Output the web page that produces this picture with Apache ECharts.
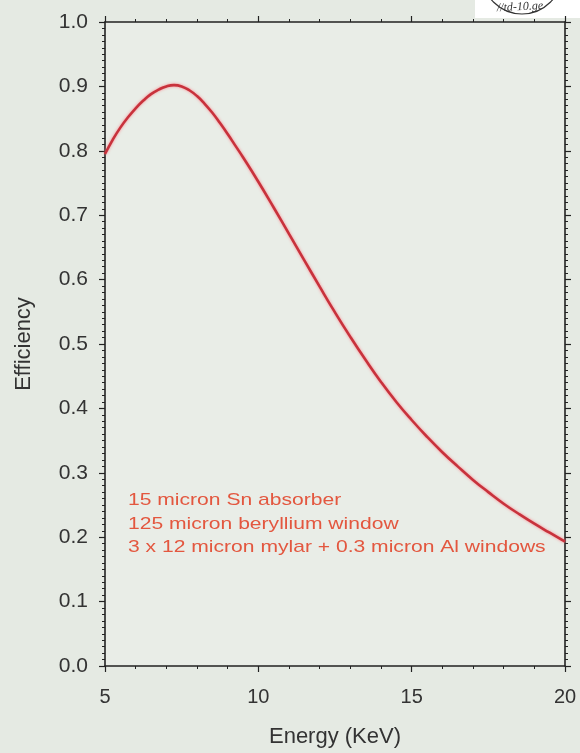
<!DOCTYPE html>
<html>
<head>
<meta charset="utf-8">
<script src="https://cdn.jsdelivr.net/npm/echarts@6/dist/echarts.min.js"></script>
<style>
html,body{margin:0;padding:0;background:#e5eae3;}
#chart{width:580px;height:753px;}
</style>
</head>
<body>
<div id="chart"></div>
<script>
// Data
var energy = [5, 5.25, 5.5, 5.75, 6, 6.25, 6.5, 6.75, 7, 7.25, 7.5, 7.75, 8, 8.25, 8.5, 8.75, 9, 9.25, 9.5, 10, 10.5, 11, 11.5, 12, 12.5, 13, 13.5, 14, 14.5, 15, 15.5, 16, 16.5, 17, 17.5, 18, 18.5, 19, 19.5, 20];
var efficiency = [0.795, 0.817, 0.836, 0.852, 0.866, 0.878, 0.888, 0.895, 0.900, 0.902, 0.900, 0.894, 0.885, 0.873, 0.859, 0.843, 0.826, 0.808, 0.790, 0.752, 0.712, 0.671, 0.630, 0.589, 0.549, 0.511, 0.475, 0.441, 0.410, 0.382, 0.356, 0.332, 0.310, 0.289, 0.270, 0.252, 0.236, 0.221, 0.207, 0.193];
var xTitle = 'Energy (KeV)';
var yTitle = 'Efficiency';
var notes = ['15 micron Sn absorber', '125 micron beryllium window', '3 x 12 micron mylar + 0.3 micron Al windows'];

var seriesData = energy.map(function (e, i) { return [e, efficiency[i]]; });

var axisColor = '#222';
var labelColor = '#333';
var fontFam = '"Liberation Sans", Arial, sans-serif';

var chart = echarts.init(document.getElementById('chart'), null, {renderer: 'canvas'});

var commonX = {
  type: 'value', min: 5, max: 20, interval: 5,
  axisLine: {show: true, onZero: false, lineStyle: {color: axisColor, width: 1.6}},
  axisTick: {show: true, inside: false, length: 6, lineStyle: {color: axisColor, width: 1.2}},
  minorTick: {show: true, splitNumber: 5, length: 3, lineStyle: {color: axisColor, width: 1}},
  splitLine: {show: false}, minorSplitLine: {show: false}
};
var commonY = {
  type: 'value', min: 0, max: 1, interval: 0.1,
  axisLine: {show: true, onZero: false, lineStyle: {color: axisColor, width: 1.6}},
  axisTick: {show: true, inside: false, length: 6, lineStyle: {color: axisColor, width: 1.2}},
  minorTick: {show: true, splitNumber: 10, length: 3, lineStyle: {color: axisColor, width: 1}},
  splitLine: {show: false}, minorSplitLine: {show: false}
};

var option = {
  backgroundColor: '#e5eae3',
  animation: false,
  grid: {left: 105, right: 15, top: 22, bottom: 87, show: true, backgroundColor: '#e9ede7', borderWidth: 0},
  xAxis: [
    Object.assign({}, commonX, {
      position: 'bottom',
      name: xTitle, nameLocation: 'middle', nameGap: 60,
      nameTextStyle: {fontFamily: fontFam, fontSize: 22, color: labelColor},
      axisLabel: {show: true, margin: 21, fontFamily: fontFam, fontSize: 20, color: labelColor}
    }),
    Object.assign({}, commonX, {position: 'top', axisLabel: {show: false}})
  ],
  yAxis: [
    Object.assign({}, commonY, {
      position: 'left',
      name: yTitle, nameLocation: 'middle', nameGap: 70, nameRotate: 90,
      nameTextStyle: {fontFamily: fontFam, fontSize: 22, color: labelColor},
      axisLabel: {show: true, margin: 17, fontFamily: fontFam, fontSize: 21, color: labelColor,
        formatter: function (v) { return v.toFixed(1); }}
    }),
    Object.assign({}, commonY, {position: 'right', axisLabel: {show: false}})
  ],
  series: [{
    type: 'line',
    xAxisIndex: 0, yAxisIndex: 0,
    data: seriesData,
    smooth: 0.5,
    showSymbol: false,
    lineStyle: {color: '#c8323c', width: 2.6, shadowColor: 'rgba(255,110,120,0.8)', shadowBlur: 3}
  }],
  graphic: [
    {
      type: 'text', x: 128, y: 489, scaleX: 1.24,
      style: {text: notes.join('\n'), fill: '#e3573f', font: '17px "Liberation Sans", Arial, sans-serif',
        lineHeight: 23.5, verticalAlign: 'top', align: 'left'}
    },
    {
      type: 'group',
      children: [
        {type: 'rect', shape: {x: 475, y: 0, width: 105, height: 18}, style: {fill: '#ffffff'}},
        {type: 'circle', shape: {cx: 522, cy: -26, r: 40}, style: {fill: 'none', stroke: '#333', lineWidth: 1.2}},
        {type: 'text', x: 520, y: 7, rotation: 0.05,
          style: {text: '//td-10.ge', fill: '#333', font: 'italic 12px "Liberation Serif", serif', align: 'center', verticalAlign: 'middle'}}
      ]
    }
  ]
};
chart.setOption(option);
</script>
</body>
</html>
